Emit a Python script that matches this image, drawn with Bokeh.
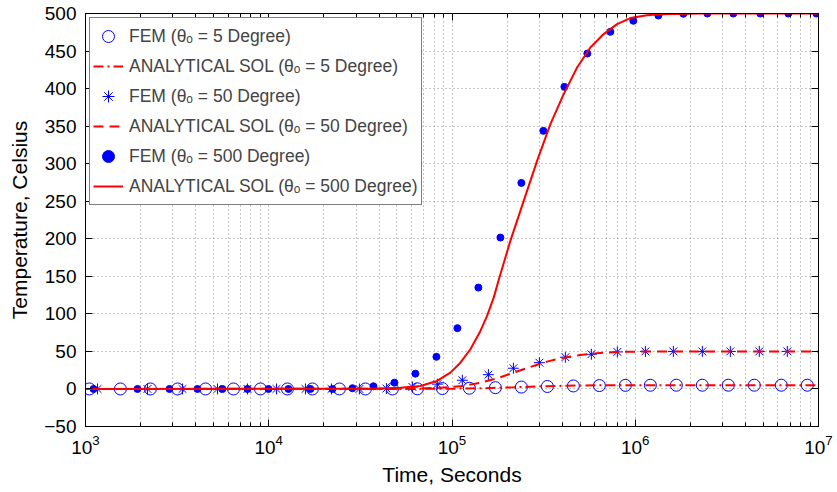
import numpy as np
from bokeh.plotting import figure
from bokeh.models import (LogAxis, LinearAxis, Legend, LegendItem, FixedTicker,
                          CustomJSTickFormatter)
from bokeh.embed import file_html
from bokeh.resources import INLINE

# ---------------- data ----------------
# FEM, theta_o = 5 degree (open circles)
t_fem5 = [1050, 1550, 2260, 3180, 4520, 6420, 9010, 12650, 17310, 24300, 33690,
          47300, 64730, 88630, 124400, 172500, 239100, 331500, 459500, 637000,
          883100, 1.209e6, 1.676e6, 2.323e6, 3.220e6, 4.464e6, 6.266e6, 8.687e6]
temp_fem5 = [0, 0, 0, 0, 0, 0, 0, 0, 0, 0, 0, 0, 0.2, 0.5, 1.0, 1.7, 2.5, 3.3,
             4.0, 4.5, 4.8, 4.95, 5, 5, 5, 5, 5, 5]

# FEM, theta_o = 50 degree (asterisks)
t_fem50 = [1163, 2179, 3382, 5251, 7652, 11020, 15860, 21990, 31240, 43860,
           60800, 83240, 113900, 157990, 216300, 299900, 415600, 576100, 798500,
           1.136e6, 1.614e6, 2.323e6, 3.302e6, 4.753e6, 6.757e6]
temp_fem50 = [0, 0, 0, 0, 0, 0, 0, 0, 0, 0.6, 2.7, 6.4, 11.6, 19.0, 27.6, 35.0,
              42.3, 46.2, 49.3, 50, 50, 50, 50, 50, 50]

# FEM, theta_o = 500 degree (filled dots)
t_fem500 = [1106, 1922, 2873, 4083, 5590, 7652, 9963, 12810, 16890, 22260, 28620,
            37260, 48500, 63140, 82200, 107000, 139300, 183700, 239100, 315200,
            410500, 547800, 731300, 976300, 1.337e6, 1.830e6, 2.474e6, 3.429e6,
            4.814e6, 6.842e6, 9.727e6]
temp_fem500 = [0, 0, 0, 0, 0, 0, 0, 0, 0, 0, 1.0, 3.6, 8.4, 20.4, 42.8, 81.0,
               135.0, 201.6, 274.4, 343.7, 402.3, 446.7, 475.6, 490.3, 497.3,
               499.6, 500, 500, 500, 500, 500]

# Analytical solutions
t_an5 = [1e3, 60800, 86440, 115800, 142900, 176200, 217100, 267700, 330200,
         406900, 501800, 618800, 795500, 1.111e6, 1.762e6, 1e7]
temp_an5 = [0, 0.05, 0.2, 0.5, 0.9, 1.5, 2.2, 3.0, 3.7, 4.2, 4.55, 4.8, 4.93,
            4.98, 5, 5]

t_an50 = [1e3, 60800, 86440, 115800, 142900, 176200, 217100, 267700, 330200,
          406900, 501800, 618800, 795500, 1.111e6, 1.762e6, 1e7]
temp_an50 = [0, 0.3, 1.7, 4.0, 8.4, 14.2, 21.7, 29.3, 36.4, 41.7, 45.3, 47.6,
             49.3, 49.8, 50, 50]

t_an500 = [1e3, 35900, 52300, 67200, 82900, 98000, 111100, 126000, 142900,
           155400, 168900, 179800, 208200, 246200, 291300, 344300, 406900,
           481500, 569000, 672400, 795500, 940400, 1.16e6, 1.37e6, 2.26e6, 1e7]
temp_an500 = [0, 0.4, 1.7, 4.0, 10.7, 21.7, 35.0, 52.9, 77.3, 97.3, 121.6, 145.0,
              197.2, 250.5, 303.8, 352.7, 392.6, 428.0, 454.7, 472.6, 485.9,
              493.9, 497.8, 499.1, 500, 500]

x_major = [1e3, 1e4, 1e5, 1e6, 1e7]
y_major = [-50, 0, 50, 100, 150, 200, 250, 300, 350, 400, 450, 500]

# ---------------- figure ----------------
FONT = "Liberation Sans"
BLUE = "#0000ff"
RED = "#ff0000"

p = figure(width=837, height=492, x_axis_type="log",
           x_range=(1e3, 1e7), y_range=(-50, 500),
           output_backend="svg", toolbar_location=None,
           min_border_left=85, min_border_right=19,
           min_border_top=13, min_border_bottom=66)
p.background_fill_color = "white"
p.border_fill_color = "white"
p.outline_line_color = "black"
p.outline_line_width = 1

minor = [m * 10 ** e for e in range(3, 7) for m in range(2, 10)]
xticker = FixedTicker(ticks=x_major, minor_ticks=minor)
yticker = FixedTicker(ticks=y_major)

p.xaxis.ticker = xticker
p.yaxis.ticker = yticker
p.yaxis.formatter = CustomJSTickFormatter(
    code="return tick < 0 ? '\\u2212' + Math.abs(tick) : String(tick);")

for ax in (p.xaxis[0], p.yaxis[0]):
    ax.major_tick_in = 7
    ax.major_tick_out = 0
    ax.minor_tick_in = 4
    ax.minor_tick_out = 0
    ax.axis_line_color = "black"
    ax.major_tick_line_color = "black"
    ax.major_label_text_font = FONT
    ax.major_label_text_color = "black"
    ax.axis_label_text_font = FONT
    ax.axis_label_text_font_size = "21px"
    ax.axis_label_text_font_style = "normal"
    ax.axis_label_text_color = "black"
p.xaxis.major_label_text_font_size = "19px"
p.yaxis.major_label_text_font_size = "19px"
p.yaxis.minor_tick_line_color = None
p.xaxis.minor_tick_line_color = "black"
p.xaxis.major_label_standoff = 8
p.yaxis.major_label_standoff = 9
p.xaxis.axis_label = "Time, Seconds"
p.yaxis.axis_label = "Temperature, Celsius"
p.xaxis.axis_label_standoff = 6
p.yaxis.axis_label_standoff = 10

blank = CustomJSTickFormatter(code="return '';")
top_ax = LogAxis(ticker=xticker, formatter=blank, major_tick_in=7, major_tick_out=0,
                 minor_tick_in=4, minor_tick_out=0, major_label_text_font_size="0px",
                 major_label_standoff=0)
right_ax = LinearAxis(ticker=yticker, formatter=blank, major_tick_in=7, major_tick_out=0,
                      minor_tick_line_color=None, major_label_text_font_size="0px",
                      major_label_standoff=0)
p.add_layout(top_ax, "above")
p.add_layout(right_ax, "right")

# grids
for g in (p.xgrid[0], p.ygrid[0]):
    g.grid_line_color = "#8c8c8c"
    g.grid_line_dash = "1 3"
    g.grid_line_width = 1
p.xgrid.minor_grid_line_color = "#8c8c8c"
p.xgrid.minor_grid_line_dash = "1 3"
p.xgrid.minor_grid_line_width = 1

# ---------------- glyphs ----------------
r1 = p.scatter(t_fem5, temp_fem5, marker="circle", size=12, fill_color=None,
               line_color=BLUE, line_width=1)
r2 = p.line(t_an5, temp_an5, line_color=RED, line_width=2, line_dash="10 4 2 4")
r3 = p.scatter(t_fem50, temp_fem50, marker="asterisk", size=11, line_color=BLUE,
               line_width=1)
r4 = p.line(t_an50, temp_an50, line_color=RED, line_width=2, line_dash="10 6")
r5 = p.scatter(t_fem500, temp_fem500, marker="circle", size=7, fill_color=BLUE,
               line_color=BLUE)
r6 = p.line(t_an500, temp_an500, line_color=RED, line_width=2)

legend = Legend(items=[
    LegendItem(label="FEM (\u03b8\u2092 = 5 Degree)", renderers=[r1]),
    LegendItem(label="ANALYTICAL SOL (\u03b8\u2092 = 5 Degree)", renderers=[r2]),
    LegendItem(label="FEM (\u03b8\u2092 = 50 Degree)", renderers=[r3]),
    LegendItem(label="ANALYTICAL SOL (\u03b8\u2092 = 50 Degree)", renderers=[r4]),
    LegendItem(label="FEM (\u03b8\u2092 = 500 Degree)", renderers=[r5]),
    LegendItem(label="ANALYTICAL SOL (\u03b8\u2092 = 500 Degree)", renderers=[r6]),
], location="top_left")
legend.margin = 4
legend.padding = 3
legend.spacing = 0
legend.glyph_width = 30
legend.glyph_height = 30
legend.label_height = 30
legend.label_standoff = 6
legend.label_width = 286
legend.label_text_font = FONT
legend.label_text_font_size = "17.5px"
legend.label_text_baseline = "alphabetic"
legend.border_line_color = "black"
legend.border_line_width = 1
legend.background_fill_color = "white"
legend.background_fill_alpha = 1
p.add_layout(legend, "center")

open("out.html", "w").write(file_html(p, INLINE))
